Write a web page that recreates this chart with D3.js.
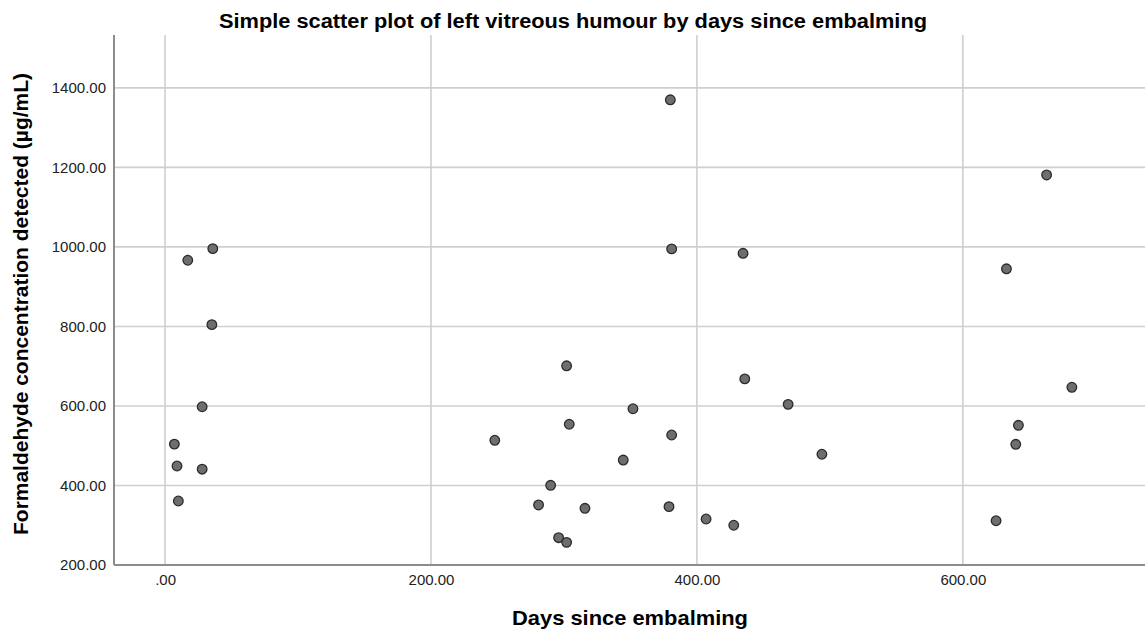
<!DOCTYPE html>
<html>
<head>
<meta charset="utf-8">
<script src="https://cdn.jsdelivr.net/npm/d3@7"></script>
<style>
  html, body { margin: 0; padding: 0; background: #fff; }
  svg { display: block; font-family: "Liberation Sans", Arial, sans-serif; }
</style>
</head>
<body>
<svg id="chart" width="1145" height="636"></svg>
<script>
// Data
const days = [35.2, 27.9, 7.0, 9.0, 27.9, 10.0, 17.1, 35.9,
  302, 436, 468.6, 351.9, 304, 248, 381, 344.6, 290, 280.9, 315.8, 379, 406.9, 427.7, 296, 302,
  682, 641.8, 639.8, 494, 625, 380, 381, 434.7, 663, 632.8];
const concentration = [804.5, 598, 504, 449, 441, 361, 966.5, 995.8,
  701, 668, 604, 593, 554, 513.7, 527, 464, 400.5, 351, 342.6, 346.7, 315.7, 300, 268.7, 257,
  647, 551.4, 503.6, 478.5, 311.3, 1370, 995, 984, 1181, 945];
const xTicks = [0, 200, 400, 600];
const yTicks = [200, 400, 600, 800, 1000, 1200, 1400];
const xDomain = [-38.4, 737];
const yDomain = [200, 1533];

const titleText = "Simple scatter plot of left vitreous humour by days since embalming";
const xLabel = "Days since embalming";
const yLabel = "Formaldehyde concentration detected (\u00b5g/mL)";

const svg = d3.select("#chart");
const mLeft = 114, mRight = 1145, mTop = 35, mBottom = 565;

const x = d3.scaleLinear().domain(xDomain).range([mLeft, mRight]);
const y = d3.scaleLinear().domain(yDomain).range([mBottom, mTop]);

const fmt = v => { const s = d3.format(".2f")(v); return s.startsWith("0.") ? s.slice(1) : s; };

// gridlines
svg.append("g").selectAll("line").data(yTicks.filter(t => t > yDomain[0])).join("line")
  .attr("x1", mLeft).attr("x2", mRight)
  .attr("y1", d => y(d)).attr("y2", d => y(d))
  .attr("stroke", "#cfcfcf").attr("stroke-width", 1.6);
svg.append("g").selectAll("line").data(xTicks).join("line")
  .attr("x1", d => x(d)).attr("x2", d => x(d))
  .attr("y1", mTop).attr("y2", mBottom)
  .attr("stroke", "#cfcfcf").attr("stroke-width", 1.6);

// axes
const xAxis = d3.axisBottom(x).tickValues(xTicks).tickFormat(fmt).tickSize(0).tickPadding(9);
const yAxis = d3.axisLeft(y).tickValues(yTicks).tickFormat(fmt).tickSize(0).tickPadding(8);

const gx = svg.append("g").attr("transform", `translate(0,${mBottom})`).call(xAxis);
const gy = svg.append("g").attr("transform", `translate(${mLeft},0)`).call(yAxis);
[gx, gy].forEach(g => {
  g.select(".domain").attr("stroke", "#8c8c8c").attr("stroke-width", 2);
  g.selectAll("text").attr("font-size", 15).attr("fill", "#222")
    .attr("font-family", "'Liberation Sans', Arial, sans-serif");
});
gx.select(".domain").attr("d", `M${mLeft},0H${mRight}`);
gy.select(".domain").attr("d", `M0,${mTop}V${mBottom}`);

// points
svg.append("g").selectAll("circle").data(days.map((d, i) => [d, concentration[i]])).join("circle")
  .attr("cx", d => x(d[0])).attr("cy", d => y(d[1]))
  .attr("r", 4.8)
  .attr("fill", "#6e6e6e").attr("stroke", "#2b2b2b").attr("stroke-width", 1.3);

// titles
svg.append("text").attr("x", 573).attr("y", 28).attr("text-anchor", "middle")
  .attr("font-size", 20).attr("font-weight", "bold").attr("fill", "#000")
  .attr("textLength", 708).attr("lengthAdjust", "spacingAndGlyphs").text(titleText);
svg.append("text").attr("x", 630).attr("y", 625).attr("text-anchor", "middle")
  .attr("font-size", 21).attr("font-weight", "bold").attr("fill", "#000")
  .attr("textLength", 236).attr("lengthAdjust", "spacingAndGlyphs").text(xLabel);
svg.append("text").attr("transform", "translate(28,304) rotate(-90)").attr("text-anchor", "middle")
  .attr("font-size", 21).attr("font-weight", "bold").attr("fill", "#000")
  .attr("textLength", 462).attr("lengthAdjust", "spacingAndGlyphs").text(yLabel);
</script>
</body>
</html>
